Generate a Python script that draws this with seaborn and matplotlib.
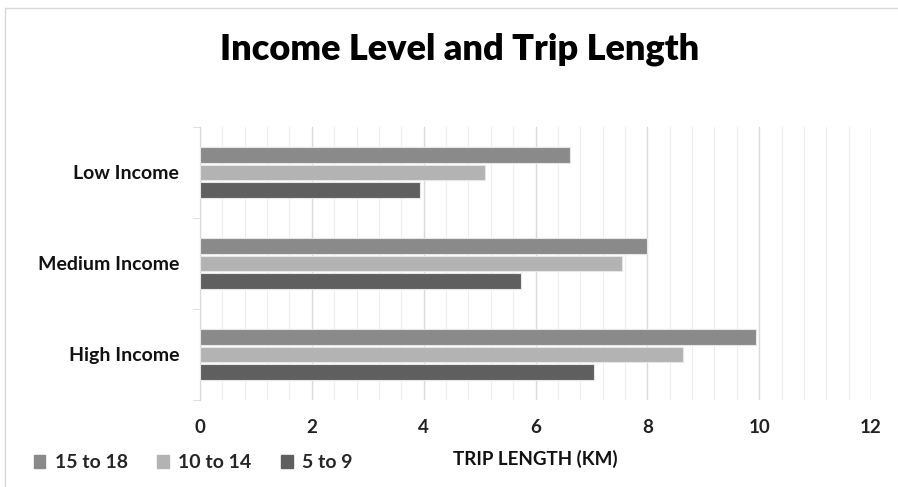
import matplotlib
matplotlib.use("Agg")
import matplotlib.pyplot as plt
import matplotlib.patches as mpatches
from matplotlib.ticker import MultipleLocator, FixedLocator
import seaborn as sns
import pandas as pd

# data
incomes = ["Low Income", "Medium Income", "High Income"]
age_groups = ["15 to 18", "10 to 14", "5 to 9"]
age_15_18 = [6.62, 8.00, 9.95]
age_10_14 = [5.10, 7.54, 8.64]
age_5_9 = [3.94, 5.74, 7.05]
xticks = [0, 2, 4, 6, 8, 10, 12]

colors = ["#8a8a8a", "#b3b3b3", "#5f5f5f"]

rows = []
for grp, vals in zip(age_groups, [age_15_18, age_10_14, age_5_9]):
    for inc, v in zip(incomes, vals):
        rows.append({"income": inc, "age": grp, "km": v})
df = pd.DataFrame(rows)

sns.set_style("white")
plt.rcParams["font.family"] = ["Lato", "DejaVu Sans"]

fig = plt.figure(figsize=(8.98, 4.87), dpi=100)
ax = fig.add_axes([200 / 898, 1 - 400 / 487, 671 / 898, 273 / 487])

sns.barplot(data=df, x="km", y="income", hue="age", order=incomes,
            hue_order=age_groups, palette=colors, orient="h",
            width=0.57, gap=0.1, edgecolor="#e6e6e6", linewidth=0.8,
            ax=ax, legend=False, zorder=3)

ax.set_xlim(0, 12)
ax.set_ylim(2.5, -0.5)
ax.set_xticks(xticks)
ax.xaxis.set_minor_locator(MultipleLocator(0.4))
ax.grid(axis="x", which="major", color="#d9d9d9", linewidth=1, zorder=0)
ax.grid(axis="x", which="minor", color="#eeeeee", linewidth=0.8, zorder=0)
ax.set_axisbelow(True)
for s in ["top", "right", "bottom"]:
    ax.spines[s].set_visible(False)
ax.spines["left"].set_color("#d9d9d9")

ax.yaxis.set_minor_locator(FixedLocator([-0.5, 0.5, 1.5, 2.5]))
ax.tick_params(axis="y", which="major", length=0, pad=15)
ax.tick_params(axis="y", which="minor", length=5, color="#d9d9d9", left=True)
ax.tick_params(axis="x", which="both", length=0, pad=14)

for lab in ax.get_yticklabels():
    lab.set_fontweight("bold")
    lab.set_fontsize(14)
    lab.set_color("#111111")
for lab in ax.get_xticklabels():
    lab.set_fontweight("bold")
    lab.set_fontsize(13.5)
    lab.set_color("#222222")

ax.set_ylabel("")
ax.set_xlabel("TRIP LENGTH (KM)", fontsize=13.5, fontweight="bold",
              color="#111111", labelpad=10)

fig.suptitle("Income Level and Trip Length", x=460 / 898, y=1 - 49 / 487,
             va="center", fontsize=26, fontweight="heavy", color="#000000")

handles = [mpatches.Patch(color=c, label=g) for c, g in zip(colors, age_groups)]
leg = fig.legend(handles=handles, loc="center left", ncol=3,
                 bbox_to_anchor=(16 / 898, 1 - 463 / 487), frameon=False,
                 handlelength=0.6, handleheight=0.6, handletextpad=0.5,
                 columnspacing=1.5, prop={"size": 14, "weight": "bold"})

# light frame around the chart area
fig.patches.append(mpatches.Rectangle((5 / 898, -0.05), 1.0, 1 - 8 / 487 + 0.05,
                                      transform=fig.transFigure, fill=False,
                                      edgecolor="#d9d9d9", linewidth=1))

fig.savefig("out.png", dpi=100)
